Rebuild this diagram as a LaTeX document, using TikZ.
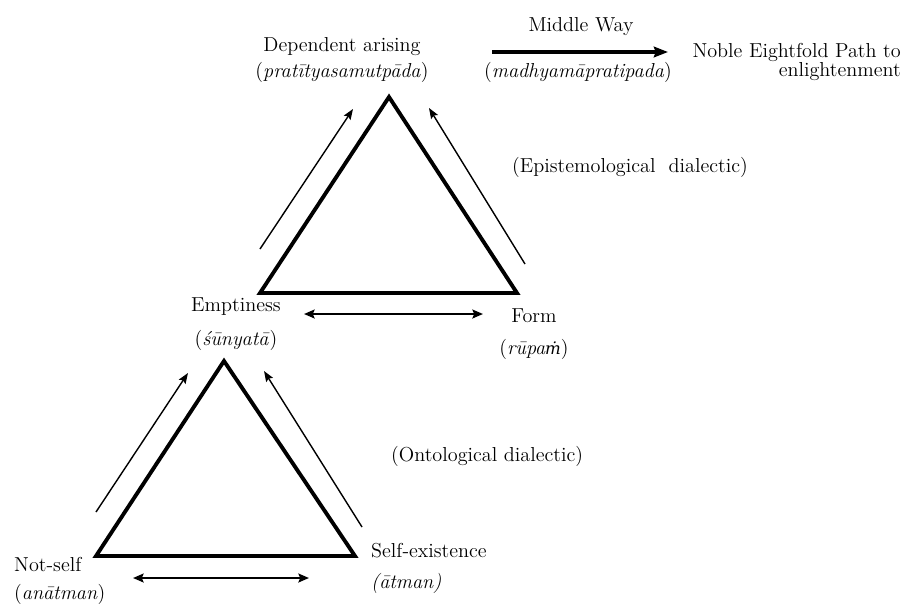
\documentclass[tikz,border=0pt]{standalone}
\usepackage{fontspec}
\newfontfamily\dotfont{DejaVu Serif}[Scale=0.82]
\usetikzlibrary{arrows.meta}
\begin{document}
\begin{tikzpicture}[x=0.02cm,y=-0.02cm,font=\fontsize{11.5}{13}\selectfont,
  side/.style={line width=2.2pt,line join=miter},
  move/.style={line width=0.8pt,-{Stealth[length=6pt,width=4.5pt,inset=1pt]}},
  swap/.style={line width=1.5pt,{Stealth[length=6pt,width=5pt,inset=1pt]}-{Stealth[length=6pt,width=5pt,inset=1pt]}}]
\useasboundingbox (0,0) rectangle (914,603);
%
\node (dep) at (342,47) {Dependent arising};
\node (depsk) at (342,72) {(\textit{pratītyasamutpāda})};
\node (mw) at (581,27) {Middle Way};
\node (mwsk) at (578,72) {(\textit{madhyamāpratipada})};
\node[anchor=east] (path) at (907,52) {Noble Eightfold Path to};
\node[anchor=east] (enl) at (907,72) {enlightenment};
\coordinate (mwa) at (492,52);
\coordinate (mwb) at (668,52);
\draw[line width=1.8pt,-{Stealth[length=8pt,width=6pt,inset=1pt]}] (mwa)--(mwb);
%
\coordinate (ta) at (389,97);
\coordinate (tb) at (260,293);
\coordinate (tc) at (517,293);
\draw[side] (ta)--(tb)--(tc)--cycle;
\coordinate (ua) at (260,249);
\coordinate (ub) at (353,109);
\draw[move] (ua)--(ub);
\coordinate (uc) at (525,264);
\coordinate (ud) at (429,108);
\draw[move] (uc)--(ud);
\node[anchor=west] (epi) at (506,167) {(Epistemological~ dialectic)};
%
\node (emp) at (236,307) {Emptiness};
\node (empsk) at (236,340) {(\textit{śūnyatā})};
\node (form) at (534,316) {Form};
\node (formsk) at (534,349) {(\textit{rūpa{\dotfont ṁ}})};
\coordinate (ea) at (304,314);
\coordinate (eb) at (483,314);
\draw[swap] (ea)--(eb);
%
\coordinate (la) at (224,361);
\coordinate (lb) at (96,556);
\coordinate (lc) at (355,556);
\draw[side] (la)--(lb)--(lc)--cycle;
\coordinate (va) at (96,512);
\coordinate (vb) at (188,373);
\draw[move] (va)--(vb);
\coordinate (vc) at (362,527);
\coordinate (vd) at (264,371);
\draw[move] (vc)--(vd);
\node[anchor=west] (onto) at (385,456) {(Ontological dialectic)};
%
\node[anchor=west] (ns) at (8,564) {Not-self};
\node[anchor=west] (nssk) at (8,594) {(\textit{anātman})};
\node[anchor=west] (se) at (365,551) {Self-existence};
\node[anchor=west] (sesk) at (365,583) {\textit{(ātman)}};
\coordinate (na) at (133,578);
\coordinate (nb) at (309,578);
\draw[swap] (na)--(nb);
\end{tikzpicture}
\end{document}
